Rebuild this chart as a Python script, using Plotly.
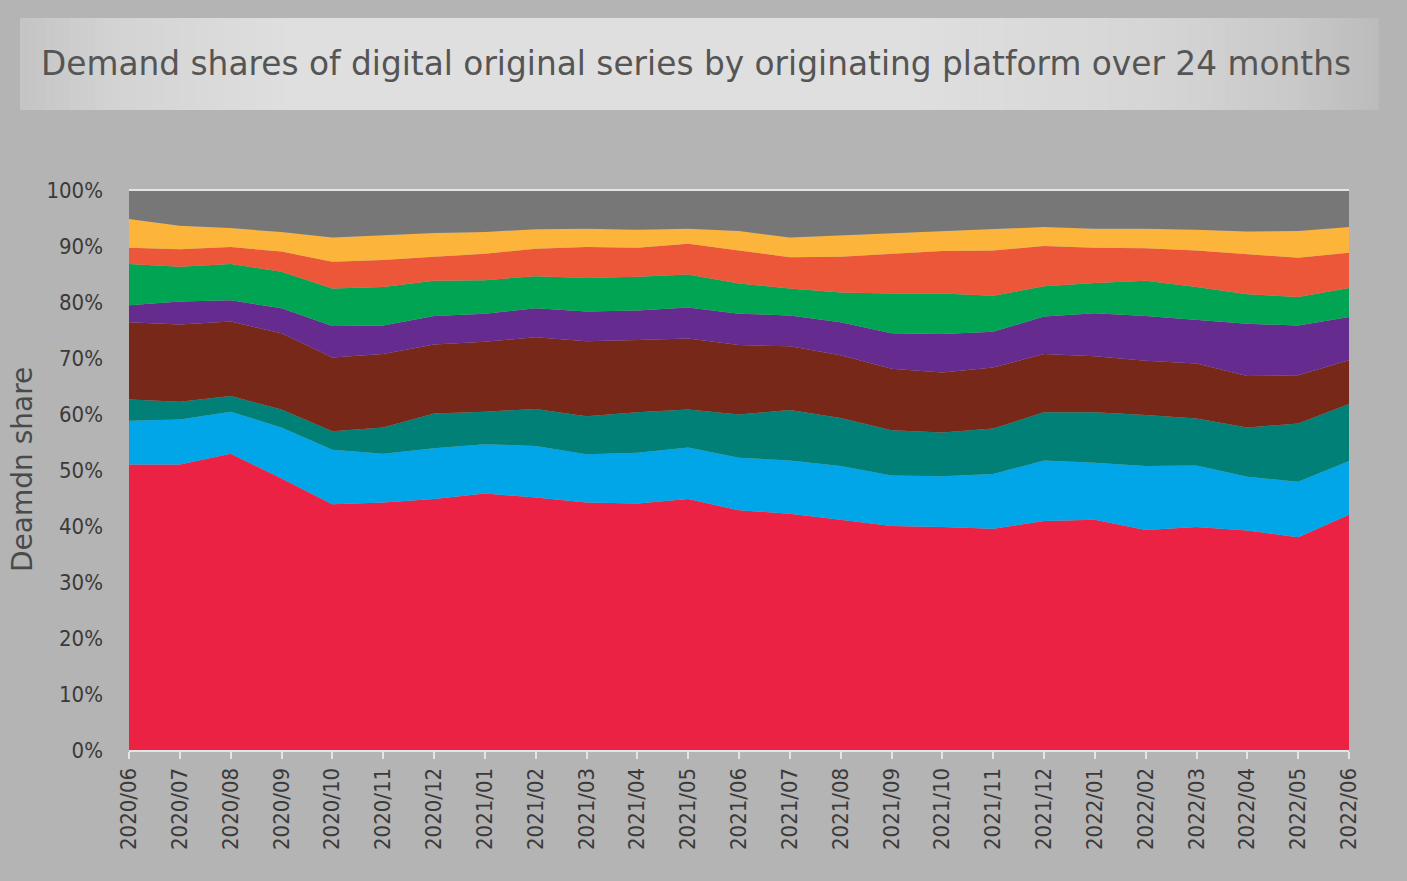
import plotly.graph_objects as go

months = ["2020/06", "2020/07", "2020/08", "2020/09", "2020/10", "2020/11", "2020/12",
          "2021/01", "2021/02", "2021/03", "2021/04", "2021/05", "2021/06", "2021/07",
          "2021/08", "2021/09", "2021/10", "2021/11", "2021/12", "2022/01", "2022/02",
          "2022/03", "2022/04", "2022/05", "2022/06"]

red = [51.0, 51.0, 52.9, 48.5, 43.9, 44.2, 44.8, 45.8, 45.1, 44.2, 44.0, 44.8, 42.8, 42.2,
       41.1, 40.0, 39.8, 39.5, 40.9, 41.1, 39.3, 39.8, 39.2, 38.0, 42.0]
blue = [7.8, 8.0, 7.5, 9.1, 9.7, 8.7, 9.1, 8.8, 9.2, 8.6, 9.1, 9.2, 9.4, 9.5,
        9.6, 9.0, 9.1, 9.8, 10.8, 10.2, 11.4, 11.0, 9.6, 9.9, 9.6]
teal = [3.8, 3.2, 2.8, 3.2, 3.3, 4.7, 6.2, 5.8, 6.6, 6.8, 7.2, 6.8, 7.7, 9.0,
        8.6, 8.1, 7.8, 8.1, 8.6, 9.0, 9.1, 8.4, 8.8, 10.4, 10.2]
brown = [13.8, 13.8, 13.3, 13.6, 13.2, 13.1, 12.3, 12.5, 12.8, 13.4, 12.9, 12.7, 12.4, 11.4,
         11.2, 11.0, 10.7, 10.9, 10.4, 10.0, 9.7, 9.8, 9.2, 8.6, 7.8]
purple = [3.0, 4.1, 3.8, 4.5, 5.6, 5.1, 5.1, 5.0, 5.2, 5.3, 5.3, 5.5, 5.6, 5.5,
          5.9, 6.3, 6.9, 6.4, 6.7, 7.7, 8.0, 7.8, 9.3, 8.9, 7.7]
green = [7.4, 6.2, 6.5, 6.5, 6.7, 6.9, 6.3, 6.0, 5.7, 6.0, 6.0, 5.9, 5.4, 4.8,
         5.3, 7.1, 7.2, 6.4, 5.4, 5.4, 6.3, 5.9, 5.3, 5.1, 5.2]
orange = [2.9, 3.1, 3.0, 3.6, 4.8, 4.8, 4.3, 4.7, 4.9, 5.5, 5.2, 5.5, 5.9, 5.6,
          6.4, 7.1, 7.6, 8.1, 7.2, 6.3, 5.8, 6.5, 7.2, 7.0, 6.3]
yellow = [5.1, 4.2, 3.4, 3.5, 4.3, 4.4, 4.2, 3.9, 3.5, 3.3, 3.2, 2.7, 3.5, 3.5,
          3.8, 3.7, 3.6, 3.8, 3.4, 3.4, 3.5, 3.7, 4.0, 4.8, 4.6]
gray = [5.2, 6.4, 6.8, 7.5, 8.5, 8.1, 7.7, 7.5, 7.0, 6.9, 7.1, 6.9, 7.3, 8.5,
        8.1, 7.7, 7.3, 7.0, 6.6, 6.9, 6.9, 7.1, 7.4, 7.3, 6.6]

series = [
    ("Series 1", red, "#EC2245"),
    ("Series 2", blue, "#00A6E8"),
    ("Series 3", teal, "#008076"),
    ("Series 4", brown, "#772818"),
    ("Series 5", purple, "#662B8F"),
    ("Series 6", green, "#00A452"),
    ("Series 7", orange, "#EC573A"),
    ("Series 8", yellow, "#FDB43A"),
    ("Other", gray, "#777777"),
]

ytick_vals = [0, 10, 20, 30, 40, 50, 60, 70, 80, 90, 100]
ytick_text = [f"{v}%" for v in ytick_vals]

W, H = 1407, 881
L, R, T, B = 129, 58, 190, 131
PW, PH = W - L - R, H - T - B

def px(x):
    return (x - L) / PW

def py(y):
    return (H - B - y) / PH

fig = go.Figure()
for name, vals, col in series:
    fig.add_trace(go.Scatter(
        x=months, y=vals, name=name, mode="lines", stackgroup="one",
        line=dict(width=0, color=col), fillcolor=col, hoverinfo="x+y+name",
    ))

tick_font = dict(family="DejaVu Sans Condensed, Roboto Condensed, Liberation Sans Narrow, Roboto, sans-serif",
                 size=22, color="#3a3a3a")

# title banner: horizontal gradient built from thin strips
stops = [(20, 0xc4), (120, 0xd4), (300, 0xdf), (900, 0xdf), (1150, 0xd6), (1300, 0xc8), (1378, 0xbb)]
shapes = []
for k in range(len(stops) - 1):
    (xa, ca), (xb, cb) = stops[k], stops[k + 1]
    n = 12
    for j in range(n):
        x0 = xa + (xb - xa) * j / n
        x1 = xa + (xb - xa) * (j + 1) / n + 0.6
        c = int(round(ca + (cb - ca) * (j + 0.5) / n))
        shapes.append(dict(type="rect", xref="paper", yref="paper", x0=px(x0), x1=px(x1),
                           y0=py(110), y1=py(18), fillcolor=f"rgb({c},{c},{c})",
                           line=dict(width=0), layer="below"))
shapes.append(dict(type="line", xref="paper", yref="paper", x0=0, x1=1, y0=1.0, y1=1.0,
                   line=dict(color="#e4e4e4", width=2)))

fig.update_layout(
    width=W, height=H,
    paper_bgcolor="#b4b4b4", plot_bgcolor="#b4b4b4",
    margin=dict(l=L, r=R, t=T, b=B),
    showlegend=False,
    xaxis=dict(
        type="category", range=[0, 24], showgrid=False, zeroline=False,
        showline=True, linecolor="#e4e4e4", linewidth=2,
        ticks="outside", ticklen=7, tickwidth=2, tickcolor="#e4e4e4",
        tickangle=-90, tickfont=tick_font, automargin=False,
    ),
    yaxis=dict(
        range=[0, 100], tickvals=ytick_vals, ticktext=ytick_text,
        showgrid=False, zeroline=False, showline=False, ticks="",
        ticklabelstandoff=25, tickfont=tick_font, automargin=False,
    ),
    shapes=shapes,
    annotations=[
        dict(text="Demand shares of digital original series by originating platform over 24 months",
             xref="paper", yref="paper", x=px(39), y=py(64), xanchor="left", yanchor="middle",
             showarrow=False, font=dict(family="DejaVu Sans, sans-serif", size=32.8, color="#555555")),
        dict(text="Deamdn share", xref="paper", yref="paper", x=px(22), y=py(470),
             xanchor="center", yanchor="middle", textangle=-90, showarrow=False,
             font=dict(family="DejaVu Sans, sans-serif", size=28, color="#4a4a4a")),
    ],
)

fig.write_html("out.html", config={"displayModeBar": False},
               post_script="document.body.style.margin='0';")
